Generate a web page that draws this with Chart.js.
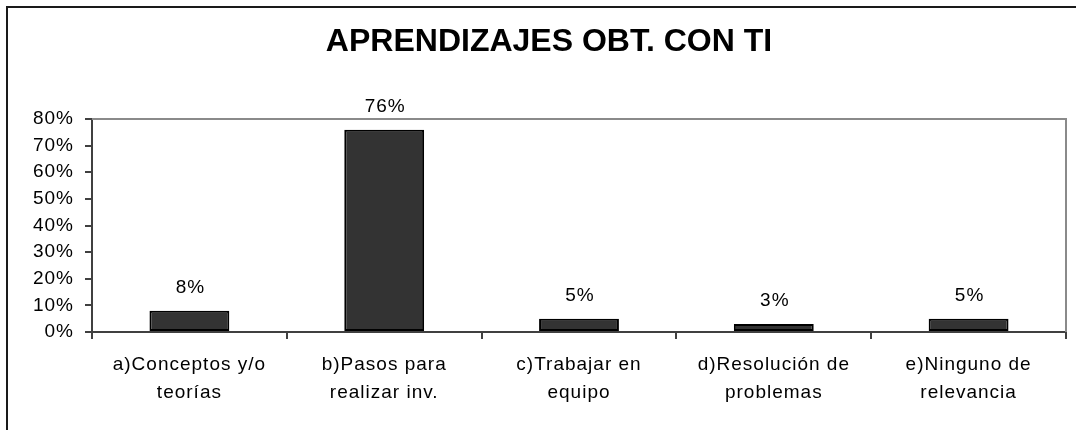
<!DOCTYPE html>
<html>
<head>
<meta charset="utf-8">
<script src="https://cdn.jsdelivr.net/npm/chart.js@4.4.0/dist/chart.umd.min.js"></script>
<style>
  html, body { margin: 0; padding: 0; background: #ffffff; }
  #wrap { width: 1076px; height: 430px; }
</style>
</head>
<body>
<div id="wrap"><canvas id="c" width="1076" height="430"></canvas></div>
<script>
const chartTitle = 'APRENDIZAJES OBT. CON TI';
const categories = [
  ['a)Conceptos y/o', 'teorías'],
  ['b)Pasos para', 'realizar inv.'],
  ['c)Trabajar en', 'equipo'],
  ['d)Resolución de', 'problemas'],
  ['e)Ninguno de', 'relevancia']
];
const values = [8, 76, 5, 3, 5];
const yTickMax = 80;
const yTickStep = 10;

const FONT = "'Liberation Sans', Arial, sans-serif";
const SPACING = '1px';

const decorPlugin = {
  id: 'decor',
  beforeDraw(chart) {
    const ctx = chart.ctx;
    ctx.save();
    ctx.fillStyle = '#ffffff';
    ctx.fillRect(0, 0, chart.width, chart.height);
    ctx.strokeStyle = '#1a1a1a';
    ctx.lineWidth = 2;
    ctx.beginPath();
    ctx.moveTo(7, chart.height);
    ctx.lineTo(7, 7);
    ctx.lineTo(chart.width, 7);
    ctx.stroke();
    ctx.restore();
    ctx.letterSpacing = SPACING;
  },
  beforeDatasetsDraw(chart) {
    const a = chart.chartArea;
    const ctx = chart.ctx;
    ctx.save();
    ctx.strokeStyle = '#8a8a8a';
    ctx.lineWidth = 2;
    ctx.beginPath();
    ctx.moveTo(a.left, a.top);
    ctx.lineTo(a.right, a.top);
    ctx.lineTo(a.right, a.bottom);
    ctx.stroke();
    ctx.restore();
  },
  afterDatasetsDraw(chart) {
    const ctx = chart.ctx;
    const meta = chart.getDatasetMeta(0);
    ctx.save();
    ctx.letterSpacing = SPACING;
    ctx.fillStyle = '#000000';
    ctx.font = '19px ' + FONT;
    ctx.textAlign = 'center';
    ctx.textBaseline = 'middle';
    meta.data.forEach((bar, i) => {
      ctx.fillText(values[i] + '%', bar.x + 1, bar.y - 23);
    });
    ctx.restore();
  },
  afterDraw(chart) {
    const ctx = chart.ctx;
    ctx.save();
    ctx.letterSpacing = '0px';
    ctx.fillStyle = '#000000';
    ctx.font = 'bold 32px ' + FONT;
    ctx.textAlign = 'center';
    ctx.textBaseline = 'middle';
    ctx.fillText(chartTitle, 549, 42);
    ctx.restore();
  }
};

new Chart(document.getElementById('c'), {
  type: 'bar',
  data: {
    labels: categories,
    datasets: [{
      data: values,
      backgroundColor: '#333333',
      borderColor: '#000000',
      borderWidth: 2,
      borderSkipped: false,
      barPercentage: 0.41,
      categoryPercentage: 1.0
    }]
  },
  options: {
    responsive: false,
    devicePixelRatio: 1,
    animation: false,
    layout: { padding: { top: 119, left: 32, right: 10, bottom: 0 } },
    plugins: {
      legend: { display: false },
      title: { display: false },
      tooltip: { enabled: false }
    },
    scales: {
      x: {
        offset: true,
        grid: { offset: true, drawOnChartArea: false, drawTicks: true, tickLength: 7, color: '#404040', lineWidth: 2 },
        border: { display: true, color: '#404040', width: 2 },
        ticks: {
          color: '#000000',
          font: { family: FONT, size: 19, lineHeight: 1.47 },
          padding: 12,
          maxRotation: 0,
          autoSkip: false
        },
        afterFit(scale) { scale.height = 98; }
      },
      y: {
        min: 0,
        max: yTickMax,
        grid: { drawOnChartArea: false, drawTicks: true, tickLength: 7, color: '#404040', lineWidth: 2 },
        border: { display: true, color: '#404040', width: 2 },
        ticks: {
          stepSize: yTickStep,
          color: '#000000',
          font: { family: FONT, size: 19 },
          padding: 11,
          callback: (v) => v + '%'
        },
        afterFit(scale) { scale.width = 60; }
      }
    }
  },
  plugins: [decorPlugin]
});
</script>
</body>
</html>
